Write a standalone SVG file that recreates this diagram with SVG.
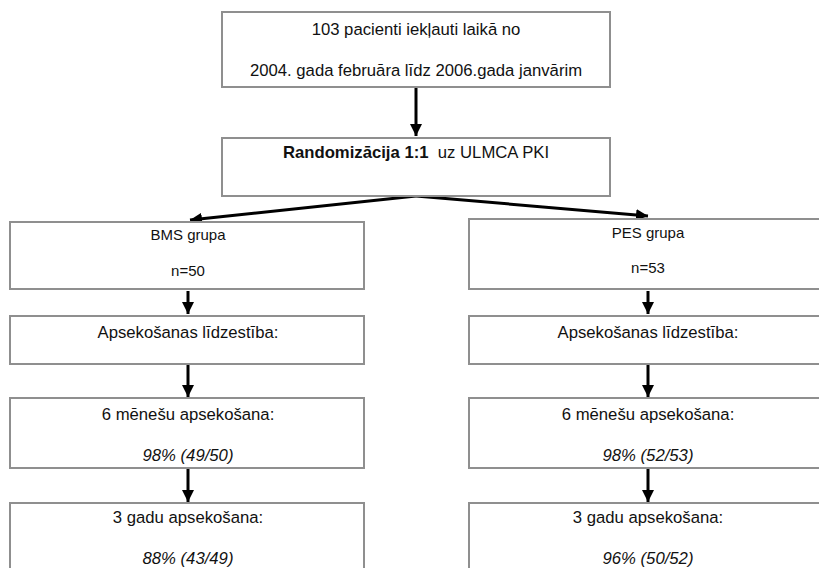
<svg xmlns="http://www.w3.org/2000/svg" width="819" height="568" viewBox="0 0 819 568">
<style>
.box{fill:#ffffff;stroke:#8f8f8f;stroke-width:2}
.t{font-family:"Liberation Sans",Arial,sans-serif;font-size:16.7px;fill:#111;text-anchor:middle}
.s{font-size:15px}
.b{font-weight:bold}
.i{font-style:italic}
.c{stroke:#000;stroke-width:3;fill:none}
</style>
<defs>
<marker id="ah" markerWidth="4" markerHeight="4" refX="4" refY="2" orient="auto" markerUnits="strokeWidth">
<path d="M0,0 L4,2 L0,4 Z" fill="#000"/>
</marker>
</defs>
<rect width="819" height="568" fill="#fff"/>
<g id="connectors">
<line class="c" x1="416" y1="88" x2="416" y2="136" marker-end="url(#ah)"/>
<line class="c" x1="416" y1="196" x2="190" y2="220" marker-end="url(#ah)"/>
<line class="c" x1="416" y1="196" x2="648" y2="216" marker-end="url(#ah)"/>
<line class="c" x1="188" y1="291" x2="188" y2="314" marker-end="url(#ah)"/>
<line class="c" x1="188" y1="365" x2="188" y2="397" marker-end="url(#ah)"/>
<line class="c" x1="188" y1="469" x2="188" y2="502" marker-end="url(#ah)"/>
<line class="c" x1="648" y1="291" x2="648" y2="314" marker-end="url(#ah)"/>
<line class="c" x1="648" y1="365" x2="648" y2="397" marker-end="url(#ah)"/>
<line class="c" x1="648" y1="469" x2="648" y2="502" marker-end="url(#ah)"/>
</g>
<g id="n-start">
<rect class="box" x="222" y="12" width="388" height="75"/>
<text class="t" x="416" y="35">103 pacienti iekļauti laikā no</text>
<text class="t" x="416" y="76">2004. gada februāra līdz 2006.gada janvārim</text>
</g>
<g id="n-rand">
<rect class="box" x="222" y="138" width="388" height="58"/>
<text class="t" x="416" y="158" xml:space="preserve"><tspan class="b">Randomizācija 1:1</tspan>  uz ULMCA PKI</text>
</g>
<g id="n-bms">
<rect class="box" x="10" y="222" width="354" height="67"/>
<text class="t s" x="188" y="240">BMS grupa</text>
<text class="t s" x="188" y="276">n=50</text>
</g>
<g id="n-bms-f">
<rect class="box" x="10" y="316" width="354" height="48"/>
<text class="t" x="188" y="338">Apsekošanas līdzestība:</text>
</g>
<g id="n-bms-6">
<rect class="box" x="10" y="398" width="354" height="70"/>
<text class="t" x="188" y="420">6 mēnešu apsekošana:</text>
<text class="t i" x="188" y="461">98% (49/50)</text>
</g>
<g id="n-bms-3">
<rect class="box" x="10" y="503" width="354" height="80"/>
<text class="t" x="188" y="523">3 gadu apsekošana:</text>
<text class="t i" x="188" y="564">88% (43/49)</text>
</g>
<g id="n-pes">
<rect class="box" x="469" y="219" width="360" height="70"/>
<text class="t s" x="648" y="238">PES grupa</text>
<text class="t s" x="648" y="273">n=53</text>
</g>
<g id="n-pes-f">
<rect class="box" x="469" y="316" width="360" height="48"/>
<text class="t" x="648" y="338">Apsekošanas līdzestība:</text>
</g>
<g id="n-pes-6">
<rect class="box" x="469" y="398" width="360" height="70"/>
<text class="t" x="648" y="420">6 mēnešu apsekošana:</text>
<text class="t i" x="648" y="461">98% (52/53)</text>
</g>
<g id="n-pes-3">
<rect class="box" x="469" y="503" width="360" height="80"/>
<text class="t" x="648" y="523">3 gadu apsekošana:</text>
<text class="t i" x="648" y="564">96% (50/52)</text>
</g>
</svg>
